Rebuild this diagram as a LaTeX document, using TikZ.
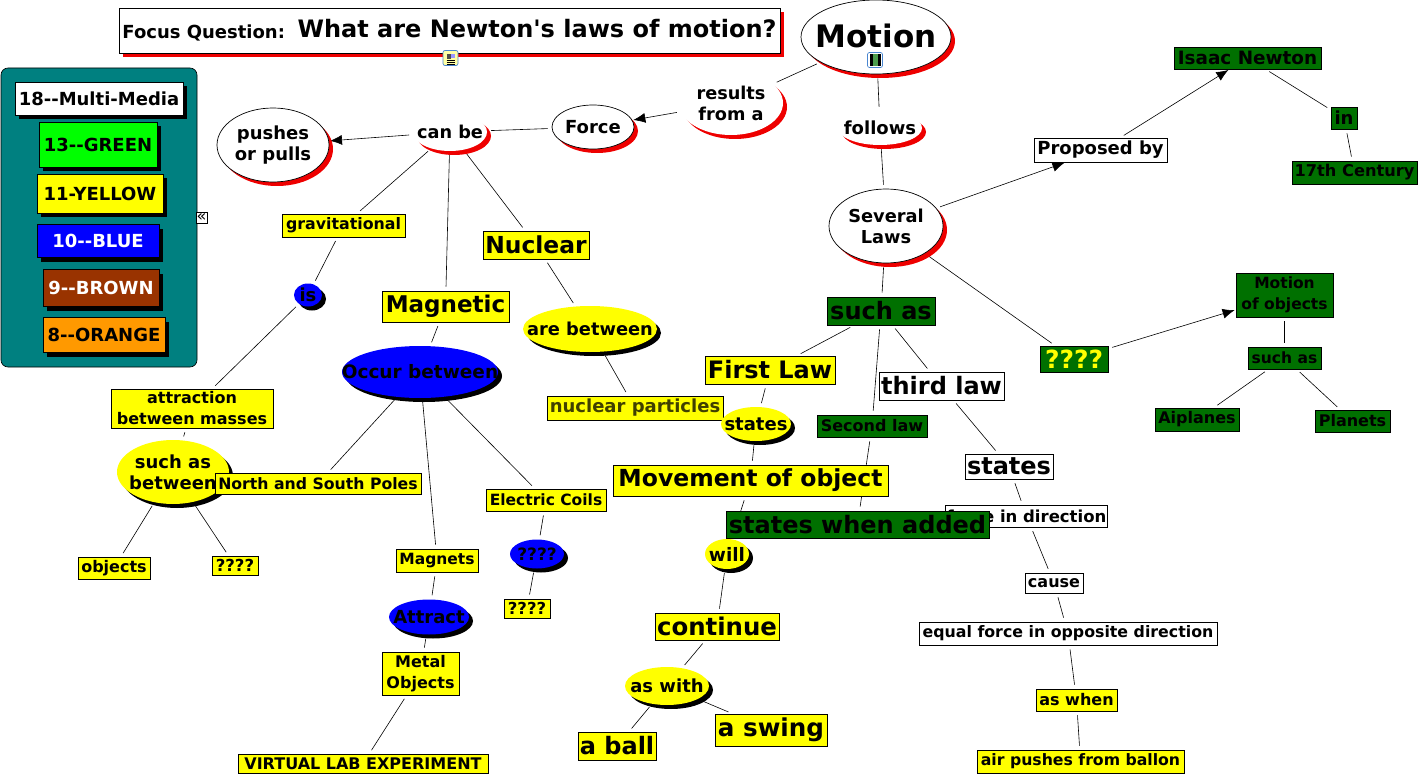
\documentclass[tikz,border=0pt]{standalone}
\usepackage{fontspec}
\newfontfamily\cmapfont{DejaVu Sans}
\usetikzlibrary{arrows.meta,shapes.geometric,shadows,backgrounds}
\definecolor{teal1}{HTML}{008080}
\definecolor{dkgreen}{HTML}{007000}
\definecolor{ltgreen}{HTML}{00FF00}
\definecolor{yel}{HTML}{FFFF00}
\definecolor{blu}{HTML}{0000FF}
\definecolor{brn}{HTML}{993300}
\definecolor{org}{HTML}{FF9900}
\definecolor{shred}{HTML}{EE0000}
\definecolor{iconblue}{HTML}{4A86D0}
\begin{document}
\begin{tikzpicture}[x=1pt,y=-1pt,
      fs/.style={font=\cmapfont\fontsize{#1}{21}\selectfont\bfseries},
      wh/.style 2 args={minimum width=#1pt,minimum height=#2pt},
      box/.style={draw,rectangle,inner sep=1pt,align=center,line width=0.9pt},
      oval/.style={ellipse,inner sep=-40pt,align=center},
      redsh/.style={drop shadow={shadow xshift=4pt,shadow yshift=-4pt,fill=shred,opacity=1}},
      blksh/.style={drop shadow={shadow xshift=4pt,shadow yshift=-4pt,fill=black,opacity=1}},
      ybox/.style={box,fill=yel},
      gbox/.style={box,fill=dkgreen},
      wbox/.style={box,fill=white},
      yoval/.style={oval,fill=yel,blksh},
      boval/.style={oval,fill=blu,blksh},
      woval/.style={oval,draw,fill=white,redsh,line width=0.7pt},
      phrase/.style={oval,fill=white,redsh},
      icon/.style={draw=iconblue,rounded corners=2pt,fill=white,wh={15}{15},inner sep=0pt,line width=0.7pt},
      link/.style={draw,line width=0.6pt,shorten <=4pt,shorten >=4pt},
      arrowlink/.style={link,-{Latex[length=12pt,width=10pt]},shorten >=1pt}]

    \useasboundingbox (0,0) rectangle (1425,781);

    % legend
    \node[draw,rounded corners=7pt,fill=teal1,wh={196}{299},line width=0.6pt] (panel) at (99,217.5) {};
    \node[wbox,blksh,fs=18,wh={168}{33}] (leg18) at (99,98.5) {18--Multi-Media};
    \node[box,fill=ltgreen,blksh,fs=18,wh={118}{45}] (leg13) at (98,144.5) {13--GREEN};
    \node[ybox,blksh,fs=18,wh={126}{39}] (leg11) at (100,193.5) {11-YELLOW};
    \node[box,fill=blu,text=white,blksh,fs=18,wh={122}{33}] (leg10) at (98,241) {10--BLUE};
    \node[box,fill=brn,text=white,blksh,fs=18,wh={116}{37}] (leg9) at (101,288) {9--BROWN};
    \node[box,fill=org,blksh,fs=18,wh={122}{35}] (leg8) at (104,335) {8--ORANGE};
    \node[draw,fill=white,inner sep=0pt,wh={11}{11},font=\cmapfont\fontsize{16}{16}\selectfont] (collapse) at (201.5,217.5) {«};

    % focus question
    \node[wbox,redsh,wh={661}{45},fs=18] (focus) at (449.5,30.5) {\raisebox{2pt}{Focus Question:\ \ {\fontsize{24}{24}\selectfont\raisebox{1pt}{What are Newton's laws of motion?}}}};
    \node[icon,fill=yel!35] (docicon) at (450.5,58) {};
    \fill[black!70] (446.5,54) rectangle (451,59);
    \fill[blue!40] (451,54) rectangle (454.5,58);
    \foreach \yy in {60,62,64}
      \draw[black,line width=0.5pt] (446.5,\yy) -- (454.5,\yy);

    % force side
    \node[woval,wh={150}{74},fs=31] (motion) at (876,37) {\raisebox{2pt}{Motion}};
    \node[icon] (filmicon) at (875,60) {};
    \fill[black] (869.5,54) rectangle (880.5,66);
    \fill[green!45!black!70] (872.5,54) rectangle (877.5,66);
    \node[phrase,wh={104}{64},fs=17.7] (results) at (731,103) {results\\from a};
    \node[woval,wh={82}{44},fs=18] (force) at (593,127) {Force};
    \node[phrase,wh={74}{38},fs=17.7] (canbe) at (450,132) {can be};
    \node[woval,wh={112}{74},fs=18] (pushes) at (273,145) {pushes\\or pulls};

    \node[ybox,wh={123}{23},fs=15.8] (grav) at (343.5,225.5) {gravitational};
    \node[boval,wh={28}{23},fs=18] (isnode) at (308,295) {is};
    \node[ybox,wh={162}{39},fs=16] (attraction) at (192,408.5) {attraction\\ between masses};
    \node[yoval,wh={112}{64},fs=18] (suchbetween) at (173,472) {such as\\ between};
    \node[ybox,wh={206}{21},fs=15.7] (poles) at (318,483.5) {North and South Poles};
    \node[ybox,wh={72}{22},fs=16] (objects) at (114,568) {objects};
    \node[ybox,wh={46}{19},fs=16.5] (unkA) at (235,565.5) {????};

    \node[ybox,wh={127}{31},fs=23] (magnetic) at (445.5,306.5) {Magnetic};
    \node[boval,wh={156}{52},fs=18.5] (occur) at (420,372) {Occur between};
    \node[ybox,wh={120}{22},fs=15.5] (coils) at (546,500) {Electric Coils};
    \node[boval,wh={54}{29},fs=17] (unkB) at (537,554) {????};
    \node[ybox,wh={46}{19},fs=16.5] (unkC) at (527,608.5) {????};
    \node[ybox,wh={82}{23},fs=15.5] (magnets) at (437,560.5) {Magnets};
    \node[boval,wh={80}{35},fs=18] (attract) at (429,617) {Attract};
    \node[ybox,wh={77}{43},fs=16] (metal) at (420.5,673.5) {Metal\\Objects};
    \node[ybox,wh={250}{19},fs=16] (virtual) at (363,763.5) {VIRTUAL LAB EXPERIMENT};

    \node[ybox,wh={106}{28},fs=23.4] (nuclear) at (536,245) {Nuclear};
    \node[yoval,wh={134}{46},fs=17.8] (arebetween) at (590,329) {are between};
    \node[ybox,wh={176}{24},fs=18,text=black!75!yel] (particles) at (635,408) {nuclear particles};

    % laws side
    \node[phrase,wh={84}{34},fs=18] (follows) at (880,128) {follows};
    \node[woval,wh={114}{74},fs=17.8] (several) at (886,226) {Several\\Laws};
    \node[wbox,wh={133}{24},fs=18] (proposed) at (1100.5,150) {Proposed by};
    \node[gbox,wh={147}{22},fs=18.4] (newton) at (1247.5,58) {Isaac Newton};
    \node[gbox,wh={26}{22},fs=18] (innode) at (1344,118) {in};
    \node[gbox,wh={125}{23},fs=16.2] (century) at (1354.5,172.5) {17th Century};

    \node[gbox,wh={68}{26},fs=25,text=yel] (unkD) at (1074,359) {????};
    \node[gbox,wh={97}{44},fs=15.5] (motobj) at (1284.5,295) {Motion\\of objects};
    \node[gbox,wh={73}{22},fs=15.5] (suchas) at (1284.5,358) {such as};
    \node[gbox,wh={84}{23},fs=16] (airplanes) at (1197,419.5) {Aiplanes};
    \node[gbox,wh={75}{22},fs=16] (planets) at (1352.5,421) {Planets};

    \node[gbox,wh={108}{28},fs=24] (suchbig) at (881,311) {such as};
    \node[ybox,wh={130}{28},fs=24] (first) at (770,370) {First Law};
    \node[wbox,wh={125}{28},fs=24] (third) at (941.5,386) {third law};
    \node[gbox,wh={110}{22},fs=16] (second) at (872,426) {Second law};
    \node[yoval,wh={70}{34},fs=18] (statesA) at (756,424) {states};
    \node[ybox,wh={275}{31},fs=23.5] (movement) at (750.5,480.5) {Movement of object};
    \node[wbox,wh={88}{25},fs=24] (statesB) at (1009,466.5) {states};
    \node[wbox,wh={161}{22},fs=16.5] (forcedir) at (1026.5,516) {force in direction};
    \node[gbox,wh={263}{27},fs=24] (added) at (857.5,524.5) {states when added};
    \node[yoval,wh={44}{30},fs=18.5] (will) at (727,554) {will};
    \node[wbox,wh={58}{20},fs=16] (cause) at (1054,583) {cause};
    \node[ybox,wh={124}{27},fs=24.4] (continue) at (717,626.5) {continue};
    \node[wbox,wh={298}{23},fs=15.8] (equal) at (1068,633.5) {equal force in opposite direction};
    \node[yoval,wh={84}{38},fs=18] (aswith) at (667,686) {as with};
    \node[ybox,wh={78}{28},fs=24] (ball) at (617,746) {a ball};
    \node[ybox,wh={112}{32},fs=24.6] (swing) at (771,730) {a swing};
    \node[ybox,wh={81}{22},fs=16] (aswhen) at (1076.5,700) {as when};
    \node[ybox,wh={207}{23},fs=15.7] (air) at (1080.5,761.5) {air pushes from ballon};

    \begin{scope}[on background layer]
      \draw[link] (motion) -- (results);
      \draw[arrowlink] (results) -- (force);
      \draw[link] (force) -- (canbe);
      \draw[arrowlink] (canbe) -- (pushes);
      \draw[link] (canbe) -- (grav);
      \draw[link] (canbe) -- (magnetic);
      \draw[link] (canbe) -- (nuclear);
      \draw[link] (grav) -- (isnode);
      \draw[link] (isnode) -- (attraction);
      \draw[link] (attraction) -- (suchbetween);
      \draw[link] (suchbetween) -- (objects);
      \draw[link] (suchbetween) -- (unkA);
      \draw[link] (magnetic) -- (occur);
      \draw[link] (occur) -- (poles);
      \draw[link] (occur) -- (magnets);
      \draw[link] (occur) -- (coils);
      \draw[link] (coils) -- (unkB);
      \draw[link] (unkB) -- (unkC);
      \draw[link] (magnets) -- (attract);
      \draw[link] (attract) -- (metal);
      \draw[link] (metal) -- (virtual);
      \draw[link] (nuclear) -- (arebetween);
      \draw[link] (arebetween) -- (particles);

      \draw[link] (motion) -- (follows);
      \draw[link] (follows) -- (several);
      \draw[arrowlink] (several) -- (proposed);
      \draw[arrowlink] (proposed) -- (newton);
      \draw[link] (newton) -- (innode);
      \draw[link] (innode) -- (century);
      \draw[link] (several) -- (unkD);
      \draw[arrowlink] (unkD) -- (motobj);
      \draw[link] (motobj) -- (suchas);
      \draw[link] (suchas) -- (airplanes);
      \draw[link] (suchas) -- (planets);

      \draw[link] (several) -- (suchbig);
      \draw[link] (suchbig) -- (first);
      \draw[link] (suchbig) -- (second);
      \draw[link] (suchbig) -- (third);
      \draw[link] (first) -- (statesA);
      \draw[link] (statesA) -- (movement);
      \draw[link] (second) -- (added);
      \draw[link] (movement) -- (will);
      \draw[link] (will) -- (continue);
      \draw[link] (continue) -- (aswith);
      \draw[link] (aswith) -- (ball);
      \draw[link] (aswith) -- (swing);
      \draw[link] (third) -- (statesB);
      \draw[link] (statesB) -- (forcedir);
      \draw[link] (forcedir) -- (cause);
      \draw[link] (cause) -- (equal);
      \draw[link] (equal) -- (aswhen);
      \draw[link] (aswhen) -- (air);
    \end{scope}
  \end{tikzpicture}
\end{document}
